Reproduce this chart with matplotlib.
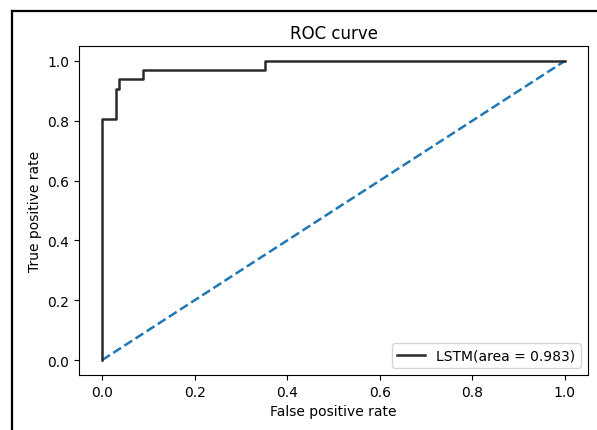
import matplotlib
matplotlib.use('Agg')
import matplotlib.pyplot as plt
from matplotlib.lines import Line2D

# ROC curve
fpr = [0.0, 0.0, 0.030, 0.030, 0.036, 0.036, 0.089, 0.089, 0.353, 0.353, 1.0]
tpr = [0.0, 0.806, 0.806, 0.905, 0.905, 0.941, 0.941, 0.971, 0.971, 1.0, 1.0]
chance = [0.0, 1.0]
auc_label = 'LSTM(area = 0.983)'

W, H = 597, 431
fig = plt.figure(figsize=(W / 100, H / 100), dpi=100)

# axes box in pixels: left 79, right 588, top 47, bottom 376
ax = fig.add_axes([79 / W, 1 - 376 / H, (588 - 79) / W, (376 - 47) / H])

ax.plot(chance, chance, '--', color='#1f77b4', linewidth=1.8)
ax.plot(fpr, tpr, color='#2b2b2b', linewidth=1.8, label=auc_label)

ax.set_xlabel('False positive rate')
ax.set_ylabel('True positive rate')
ax.set_title('ROC curve')
ax.legend(loc='lower right')

# screenshot frame (left and top edges)
fig.add_artist(Line2D([12 / W, 12 / W], [0, 1 - 12 / H], color='black',
                      linewidth=1.6, transform=fig.transFigure))
fig.add_artist(Line2D([12 / W, 1], [1 - 12 / H, 1 - 12 / H], color='black',
                      linewidth=1.6, transform=fig.transFigure))

fig.savefig('out.png', dpi=100)
